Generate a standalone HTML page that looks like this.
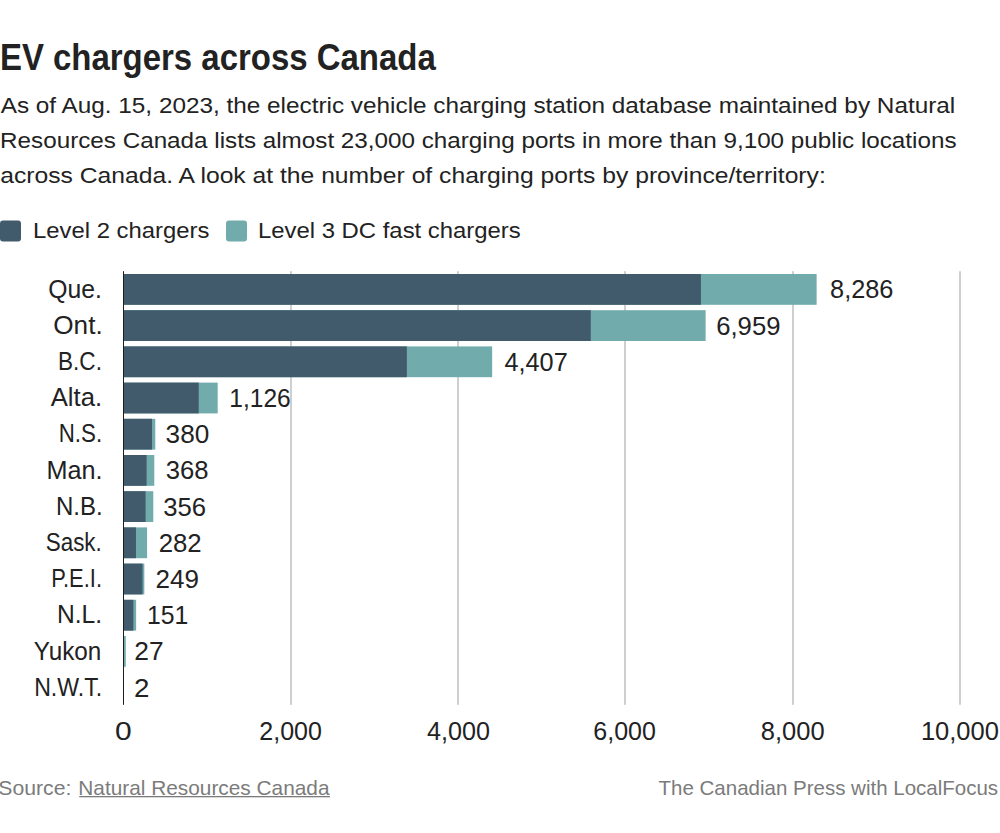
<!DOCTYPE html>
<html><head><meta charset="utf-8"><title>EV chargers across Canada</title>
<style>
html,body{margin:0;padding:0;background:#fff;}
body{width:1000px;height:833px;overflow:hidden;}
svg{display:block;font-family:"Liberation Sans", sans-serif;}
</style></head>
<body>
<svg width="1000" height="833" viewBox="0 0 1000 833">
<rect width="1000" height="833" fill="#ffffff"/>
<text id="title" x="-0.10" y="69.70" font-size="36" fill="#222222" font-weight="bold" text-anchor="start" textLength="435.80" lengthAdjust="spacingAndGlyphs">EV chargers across Canada</text>
<text id="sub0" x="0.70" y="113.20" font-size="22.5" fill="#222222" font-weight="normal" text-anchor="start" textLength="954.55" lengthAdjust="spacingAndGlyphs">As of Aug. 15, 2023, the electric vehicle charging station database maintained by Natural</text>
<text id="sub1" x="0.10" y="148.25" font-size="22.5" fill="#222222" font-weight="normal" text-anchor="start" textLength="956.45" lengthAdjust="spacingAndGlyphs">Resources Canada lists almost 23,000 charging ports in more than 9,100 public locations</text>
<text id="sub2" x="0.20" y="183.30" font-size="22.5" fill="#222222" font-weight="normal" text-anchor="start" textLength="825.59" lengthAdjust="spacingAndGlyphs">across Canada. A look at the number of charging ports by province/territory:</text>
<rect x="0" y="220.6" width="21" height="21" rx="3" fill="#415b6d"/>
<text id="leg1" x="33.10" y="238.00" font-size="22.5" fill="#222222" font-weight="normal" text-anchor="start" textLength="176.30" lengthAdjust="spacingAndGlyphs">Level 2 chargers</text>
<rect x="226" y="220.6" width="21" height="21" rx="3" fill="#72abab"/>
<text id="leg2" x="258.00" y="238.00" font-size="22.5" fill="#222222" font-weight="normal" text-anchor="start" textLength="262.75" lengthAdjust="spacingAndGlyphs">Level 3 DC fast chargers</text>
<rect x="290" y="271.2" width="2" height="433.6" fill="#cfcfcf"/>
<rect x="457" y="271.2" width="2" height="433.6" fill="#cfcfcf"/>
<rect x="624" y="271.2" width="2" height="433.6" fill="#cfcfcf"/>
<rect x="792" y="271.2" width="2" height="433.6" fill="#cfcfcf"/>
<rect x="959" y="271.2" width="2" height="433.6" fill="#cfcfcf"/>
<rect x="123.50" y="274.00" width="693.12" height="30.8" fill="#72abab"/>
<rect x="123.50" y="274.00" width="577.44" height="30.8" fill="#415b6d"/>
<text id="lab0" x="102.00" y="297.60" font-size="25" fill="#222222" font-weight="normal" text-anchor="end" textLength="53.63" lengthAdjust="spacingAndGlyphs">Que.</text>
<text id="val0" x="830.12" y="298.30" font-size="25" fill="#222222" font-weight="normal" text-anchor="start" textLength="63.29" lengthAdjust="spacingAndGlyphs">8,286</text>
<rect x="123.50" y="310.20" width="582.12" height="30.8" fill="#72abab"/>
<rect x="123.50" y="310.20" width="467.27" height="30.8" fill="#415b6d"/>
<text id="lab1" x="102.70" y="333.80" font-size="25" fill="#222222" font-weight="normal" text-anchor="end" textLength="49.44" lengthAdjust="spacingAndGlyphs">Ont.</text>
<text id="val1" x="716.22" y="334.50" font-size="25" fill="#222222" font-weight="normal" text-anchor="start" textLength="64.23" lengthAdjust="spacingAndGlyphs">6,959</text>
<rect x="123.50" y="346.40" width="368.65" height="30.8" fill="#72abab"/>
<rect x="123.50" y="346.40" width="283.32" height="30.8" fill="#415b6d"/>
<text id="lab2" x="101.90" y="370.00" font-size="25" fill="#222222" font-weight="normal" text-anchor="end" textLength="43.83" lengthAdjust="spacingAndGlyphs">B.C.</text>
<text id="val2" x="504.45" y="370.70" font-size="25" fill="#222222" font-weight="normal" text-anchor="start" textLength="63.26" lengthAdjust="spacingAndGlyphs">4,407</text>
<rect x="123.50" y="382.60" width="94.19" height="30.8" fill="#72abab"/>
<rect x="123.50" y="382.60" width="75.20" height="30.8" fill="#415b6d"/>
<text id="lab3" x="102.10" y="406.20" font-size="25" fill="#222222" font-weight="normal" text-anchor="end" textLength="51.37" lengthAdjust="spacingAndGlyphs">Alta.</text>
<text id="val3" x="229.29" y="406.90" font-size="25" fill="#222222" font-weight="normal" text-anchor="start" textLength="61.39" lengthAdjust="spacingAndGlyphs">1,126</text>
<rect x="123.50" y="418.80" width="31.79" height="30.8" fill="#72abab"/>
<rect x="123.50" y="418.80" width="28.52" height="30.8" fill="#415b6d"/>
<text id="lab4" x="102.10" y="442.40" font-size="25" fill="#222222" font-weight="normal" text-anchor="end" textLength="43.35" lengthAdjust="spacingAndGlyphs">N.S.</text>
<text id="val4" x="165.59" y="443.10" font-size="25" fill="#222222" font-weight="normal" text-anchor="start" textLength="43.68" lengthAdjust="spacingAndGlyphs">380</text>
<rect x="123.50" y="455.00" width="30.78" height="30.8" fill="#72abab"/>
<rect x="123.50" y="455.00" width="23.09" height="30.8" fill="#415b6d"/>
<text id="lab5" x="102.50" y="478.60" font-size="25" fill="#222222" font-weight="normal" text-anchor="end" textLength="56.08" lengthAdjust="spacingAndGlyphs">Man.</text>
<text id="val5" x="165.78" y="479.30" font-size="25" fill="#222222" font-weight="normal" text-anchor="start" textLength="42.76" lengthAdjust="spacingAndGlyphs">368</text>
<rect x="123.50" y="491.20" width="29.78" height="30.8" fill="#72abab"/>
<rect x="123.50" y="491.20" width="22.08" height="30.8" fill="#415b6d"/>
<text id="lab6" x="102.60" y="514.80" font-size="25" fill="#222222" font-weight="normal" text-anchor="end" textLength="46.66" lengthAdjust="spacingAndGlyphs">N.B.</text>
<text id="val6" x="163.18" y="515.50" font-size="25" fill="#222222" font-weight="normal" text-anchor="start" textLength="42.85" lengthAdjust="spacingAndGlyphs">356</text>
<rect x="123.50" y="527.40" width="23.59" height="30.8" fill="#72abab"/>
<rect x="123.50" y="527.40" width="12.46" height="30.8" fill="#415b6d"/>
<text id="lab7" x="101.80" y="551.00" font-size="25" fill="#222222" font-weight="normal" text-anchor="end" textLength="56.02" lengthAdjust="spacingAndGlyphs">Sask.</text>
<text id="val7" x="158.69" y="551.70" font-size="25" fill="#222222" font-weight="normal" text-anchor="start" textLength="43.03" lengthAdjust="spacingAndGlyphs">282</text>
<rect x="123.50" y="563.60" width="20.83" height="30.8" fill="#72abab"/>
<rect x="123.50" y="563.60" width="18.99" height="30.8" fill="#415b6d"/>
<text id="lab8" x="102.00" y="587.20" font-size="25" fill="#222222" font-weight="normal" text-anchor="end" textLength="50.75" lengthAdjust="spacingAndGlyphs">P.E.I.</text>
<text id="val8" x="155.53" y="587.90" font-size="25" fill="#222222" font-weight="normal" text-anchor="start" textLength="43.41" lengthAdjust="spacingAndGlyphs">249</text>
<rect x="123.50" y="599.80" width="12.63" height="30.8" fill="#72abab"/>
<rect x="123.50" y="599.80" width="9.87" height="30.8" fill="#415b6d"/>
<text id="lab9" x="102.10" y="623.40" font-size="25" fill="#222222" font-weight="normal" text-anchor="end" textLength="45.16" lengthAdjust="spacingAndGlyphs">N.L.</text>
<text id="val9" x="146.93" y="624.10" font-size="25" fill="#222222" font-weight="normal" text-anchor="start" textLength="41.32" lengthAdjust="spacingAndGlyphs">151</text>
<rect x="123.50" y="636.00" width="2.26" height="30.8" fill="#72abab"/>
<text id="lab10" x="101.30" y="659.60" font-size="25" fill="#222222" font-weight="normal" text-anchor="end" textLength="67.47" lengthAdjust="spacingAndGlyphs">Yukon</text>
<text id="val10" x="134.26" y="660.30" font-size="25" fill="#222222" font-weight="normal" text-anchor="start" textLength="29.37" lengthAdjust="spacingAndGlyphs">27</text>
<rect x="123.50" y="672.20" width="0.17" height="30.8" fill="#72abab"/>
<text id="lab11" x="102.30" y="695.80" font-size="25" fill="#222222" font-weight="normal" text-anchor="end" textLength="68.14" lengthAdjust="spacingAndGlyphs">N.W.T.</text>
<text id="val11" x="134.07" y="696.50" font-size="25" fill="#222222" font-weight="normal" text-anchor="start" textLength="15.42" lengthAdjust="spacingAndGlyphs">2</text>
<rect x="123" y="271.2" width="1" height="433.6" fill="#1d1d1d"/>
<text id="x0" x="123.40" y="740.00" font-size="25" fill="#222222" font-weight="normal" text-anchor="middle" textLength="16.69" lengthAdjust="spacingAndGlyphs">0</text>
<text id="x1" x="290.60" y="740.00" font-size="25" fill="#222222" font-weight="normal" text-anchor="middle" textLength="62.62" lengthAdjust="spacingAndGlyphs">2,000</text>
<text id="x2" x="458.50" y="740.00" font-size="25" fill="#222222" font-weight="normal" text-anchor="middle" textLength="63.02" lengthAdjust="spacingAndGlyphs">4,000</text>
<text id="x3" x="624.60" y="740.00" font-size="25" fill="#222222" font-weight="normal" text-anchor="middle" textLength="62.62" lengthAdjust="spacingAndGlyphs">6,000</text>
<text id="x4" x="792.70" y="740.00" font-size="25" fill="#222222" font-weight="normal" text-anchor="middle" textLength="63.85" lengthAdjust="spacingAndGlyphs">8,000</text>
<text id="x5" x="959.90" y="740.00" font-size="25" fill="#222222" font-weight="normal" text-anchor="middle" textLength="78.00" lengthAdjust="spacingAndGlyphs">10,000</text>
<text id="src" x="-1.70" y="794.80" font-size="21" fill="#7b7b7b" font-weight="normal" text-anchor="start" textLength="73.06" lengthAdjust="spacingAndGlyphs">Source:</text>
<text id="srcl" x="78.30" y="794.80" font-size="21" fill="#7b7b7b" font-weight="normal" text-anchor="start" textLength="251.20" lengthAdjust="spacingAndGlyphs">Natural Resources Canada</text>
<rect x="79.3" y="796" width="250.7" height="1.3" fill="#7b7b7b"/>
<text id="cred" x="998.10" y="794.80" font-size="21" fill="#7b7b7b" font-weight="normal" text-anchor="end" textLength="339.60" lengthAdjust="spacingAndGlyphs">The Canadian Press with LocalFocus</text>
</svg>
</body></html>
